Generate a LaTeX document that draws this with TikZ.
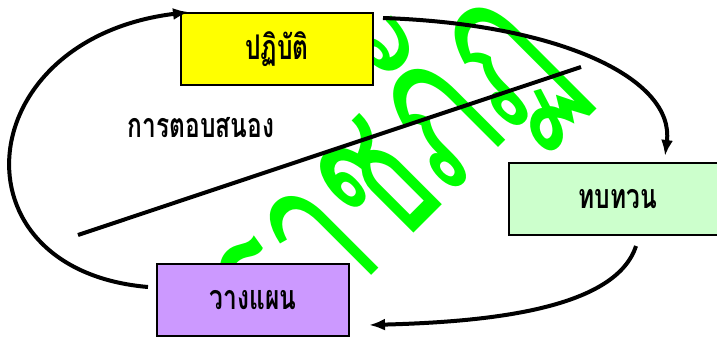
\documentclass[tikz,border=0pt]{standalone}
\usepackage{fontspec}
\usetikzlibrary{arrows.meta}
\newfontfamily\thaifont[Script=Thai,FakeStretch=0.72]{Loma}
\newfontfamily\markfont[Script=Thai,FakeStretch=0.62]{Loma}
\definecolor{wmgreen}{RGB}{0,255,0}
\definecolor{boxyellow}{RGB}{255,255,0}
\definecolor{boxgreen}{RGB}{204,255,204}
\definecolor{boxpurple}{RGB}{204,153,255}
\tikzset{
  stepbox/.style={shape=rectangle,draw=black,line width=1pt,minimum height=36pt,font=\thaifont\bfseries\fontsize{17}{20}\selectfont},
  flow/.style={draw=black,line width=2pt,-{Latex[length=8pt,width=6pt]}}
}

\begin{document}
\begin{tikzpicture}[x=0.5pt,y=-0.5pt]
\useasboundingbox (0,0) rectangle (717,338);
\node[rotate=45,text=wmgreen,font=\markfont\fontsize{106}{106}\selectfont] (w) at (385,172) {ราชภัฏ};

\node[stepbox,fill=boxyellow,minimum width=96pt] (0) at (277,49) {ปฏิบัติ};
\node[stepbox,fill=boxgreen,minimum width=109pt] (1) at (618,199) {ทบทวน};
\node[stepbox,fill=boxpurple,minimum width=96pt] (2) at (253,300) {วางแผน};
\node[font=\thaifont\bfseries\fontsize{17}{20}\selectfont] (3) at (201,128) {การตอบสนอง};

\coordinate (4) at (78,235);
\coordinate (5) at (581,67);
\path [-,draw=black,line width=2pt] (4) -- (5);

\path [flow] ([xshift=4.5pt,yshift=-3pt]0.north east) .. controls +(178,6) and +(10,-77) .. ([xshift=23.5pt,yshift=3pt]1.north);
\path [flow] ([xshift=9pt,yshift=-5pt]1.south) .. controls +(-21,65) and +(112,-3) .. ([xshift=9.5pt,yshift=-12.5pt]2.east);
\path [flow] ([xshift=-4pt,yshift=6.5pt]2.west) .. controls +(-199,-17) and +(-220,27) .. ([xshift=4.5pt]0.north west);
\end{tikzpicture}
\end{document}
